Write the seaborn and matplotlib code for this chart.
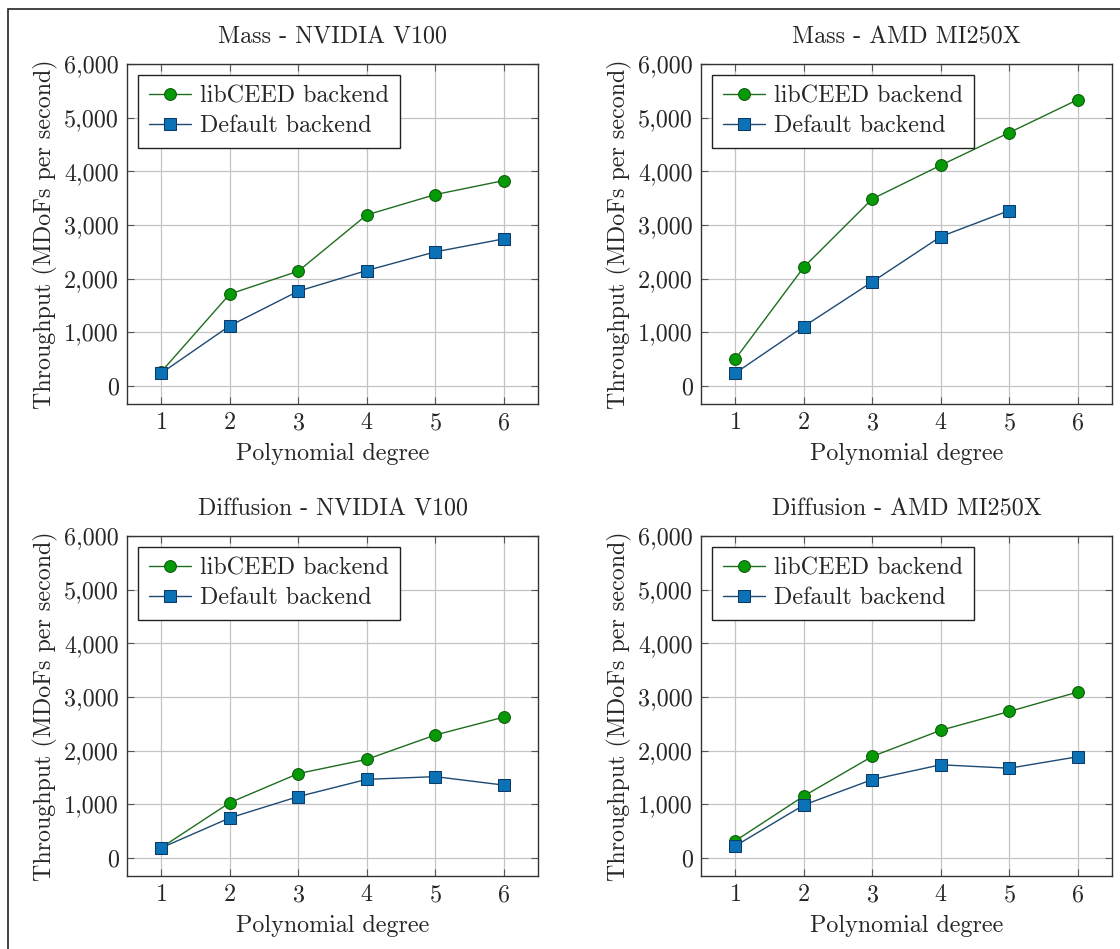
import matplotlib
matplotlib.use("Agg")
import matplotlib.pyplot as plt
import matplotlib.ticker as mticker
from matplotlib.patches import Rectangle
import seaborn as sns
import pandas as pd

degrees = [1, 2, 3, 4, 5, 6]

mass_v100_libceed = [260, 1710, 2137, 3186, 3565, 3826]
mass_v100_default = [235, 1118, 1764, 2149, 2497, 2739]

mass_mi250x_libceed = [497, 2211, 3484, 4112, 4720, 5335]
mass_mi250x_default = [236, 1105, 1938, 2782, 3267]

diff_v100_libceed = [189, 1027, 1570, 1835, 2289, 2622]
diff_v100_default = [185, 743, 1141, 1462, 1513, 1355]

diff_mi250x_libceed = [315, 1150, 1890, 2377, 2728, 3090]
diff_mi250x_default = [220, 983, 1458, 1734, 1670, 1884]

titles = ["Mass - NVIDIA V100", "Mass - AMD MI250X",
          "Diffusion - NVIDIA V100", "Diffusion - AMD MI250X"]
series_names = ["libCEED backend", "Default backend"]
yticks = [0, 1000, 2000, 3000, 4000, 5000, 6000]

panels = [
    (mass_v100_libceed, mass_v100_default),
    (mass_mi250x_libceed, mass_mi250x_default),
    (diff_v100_libceed, diff_v100_default),
    (diff_mi250x_libceed, diff_mi250x_default),
]

sns.set_theme(style="ticks")
plt.rcParams["font.family"] = ["cmr10", "DejaVu Serif"]
plt.rcParams["axes.formatter.use_mathtext"] = True
plt.rcParams["mathtext.fontset"] = "cm"

W, H = 1120, 949
fig = plt.figure(figsize=(W / 100, H / 100), dpi=100)
fig.patch.set_facecolor("white")

# outer frame
fig.patches.append(Rectangle((7.5 / W, -0.1), 1.2, 1.1 - 8.5 / H,
                             transform=fig.transFigure, fill=False,
                             edgecolor="#222222", linewidth=1.2, zorder=0))

rects_px = [(127, 64, 538, 404), (701, 64, 1112, 404),
            (127, 536, 538, 876), (701, 536, 1112, 876)]

styles = [
    dict(color="#1f6e1f", marker="o", markerfacecolor="#079a07",
         markeredgecolor="#0b5a0b", markersize=8.5, linewidth=1.0),
    dict(color="#1d4a73", marker="s", markerfacecolor="#0a72b5",
         markeredgecolor="#0d3a66", markersize=8.5, linewidth=1.0),
]

FS = 17.3
for (x0, y0, x1, y1), title, (s1, s2) in zip(rects_px, titles, panels):
    ax = fig.add_axes([x0 / W, 1 - y1 / H, (x1 - x0) / W, (y1 - y0) / H])
    for name, vals, st in zip(series_names, (s1, s2), styles):
        df = pd.DataFrame({"Polynomial degree": degrees[:len(vals)],
                           "Throughput": vals})
        sns.lineplot(data=df, x="Polynomial degree", y="Throughput", ax=ax,
                     label=name, **st)
    ax.set_xlim(0.5, 6.5)
    ax.set_ylim(-340, 6000)
    ax.set_xticks(degrees)
    ax.set_yticks(yticks)
    ax.yaxis.set_major_formatter(mticker.FuncFormatter(lambda v, p: f"{int(v):,}"))
    ax.grid(True, color="#c4c4c4", linewidth=0.9)
    ax.set_axisbelow(True)
    ax.tick_params(direction="in", length=5, width=0.8, color="#555555",
                   top=True, right=True, labelsize=FS, pad=6)
    for sp in ax.spines.values():
        sp.set_color("#333333")
        sp.set_linewidth(1.0)
    ax.set_title(title, fontsize=FS, pad=15)
    ax.set_xlabel("Polynomial degree", fontsize=FS, labelpad=6)
    ax.set_ylabel("Throughput (MDoFs per second)", fontsize=FS, labelpad=4)
    leg = ax.legend(loc="upper left", fontsize=FS, frameon=True, fancybox=False,
                    framealpha=1, edgecolor="#222222", borderaxespad=0.45,
                    handlelength=1.75, handletextpad=0.4, borderpad=0.45,
                    labelspacing=0.3)
    leg.get_frame().set_linewidth(1.0)

fig.savefig("out.png", dpi=100, facecolor="white")
